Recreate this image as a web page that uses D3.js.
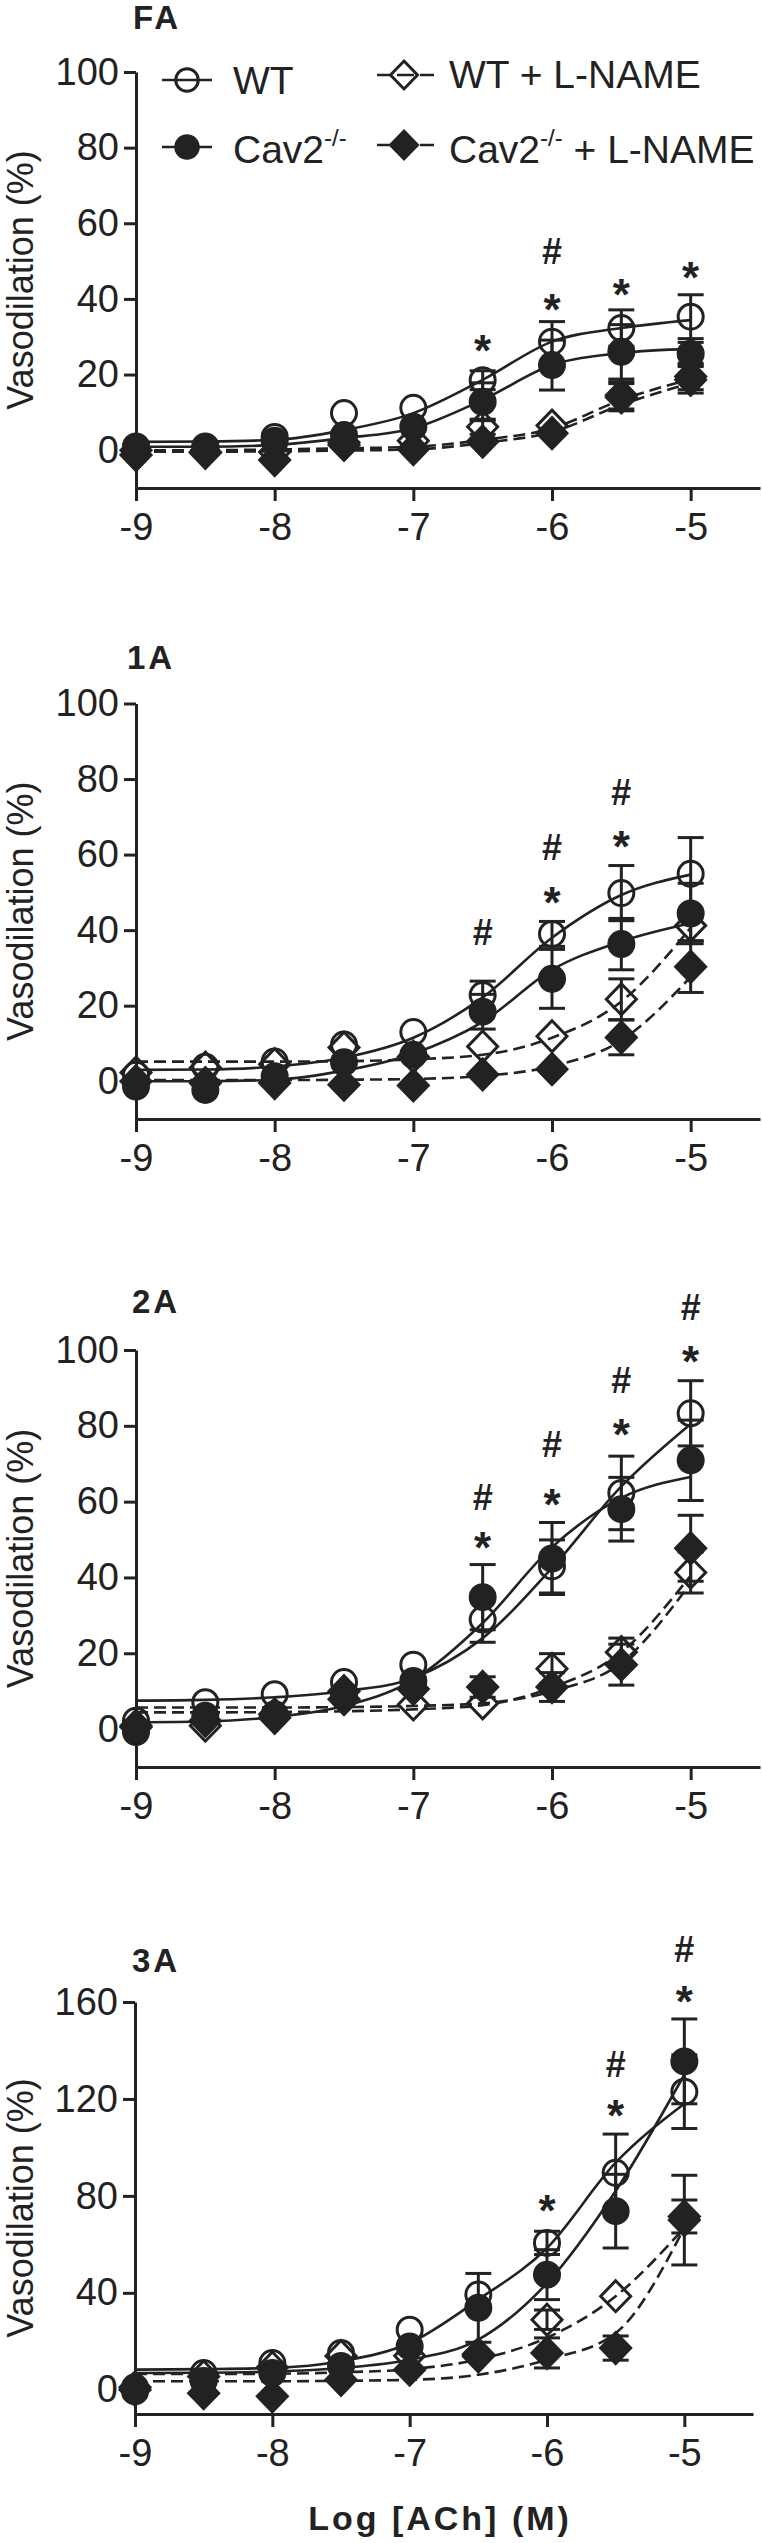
<!DOCTYPE html>
<html><head><meta charset="utf-8">
<script src="https://cdn.jsdelivr.net/npm/d3@7"></script>
<style>
body{margin:0;background:#fff;}
svg{display:block;background:#fff;}
text{font-family:"Liberation Sans", Arial, Helvetica, sans-serif;fill:#222;}
</style></head><body>
<svg id="c" width="762" height="2543"></svg>
<script>
// ---------------- data ----------------
const doses = [-9, -8.5, -8, -7.5, -7, -6.5, -6, -5.5, -5];
const xTickValues = [-9, -8, -7, -6, -5];
const xDomain = [-9, -4.5];
const panelNames = ["FA", "1A", "2A", "3A"];
const seriesNames = ["WT", "Cav2-/-", "WT + L-NAME", "Cav2-/- + L-NAME"];
const legendMain = ["WT", "Cav2", "WT + L-NAME", "Cav2"];
const legendSup = ["", "-/-", "", "-/-"];
const legendTail = ["", "", "", " + L-NAME"];
const yTicks100 = [0, 20, 40, 60, 80, 100];
const yTicks160 = [0, 40, 80, 120, 160];
const yTitle = "Vasodilation (%)";
const xTitle = "Log [ACh] (M)";

// FA
const faWT = [1, 1, 3.5, 9.8, 11.2, 18.5, 28.7, 32.3, 35.3];
const faWTErr = [0, 0, 0, 0, 0, 2.5, 5.3, 4.8, 5.8];
const faCav2 = [0.6, 0.6, 2.5, 4, 6.2, 12.8, 22.5, 26, 25.5];
const faCav2Err = [0, 0, 0, 0, 0, 5, 6.6, 7.2, 3];
const faWTL = [0, -0.5, -0.5, 2, 2.5, 6.2, 6.5, 14.5, 19.5];
const faWTLErr = [0, 0, 0, 0, 0, 2, 0, 3.6, 3.5];
const faCav2L = [-1.3, -0.7, -2.6, 1.4, 0.3, 2.3, 4.5, 14, 18.6];
const faCav2LErr = [0, 0, 0, 0, 0, 0, 0, 3.6, 3.5];
const faWTFit = [2.2, 2.3, 2.7, 5.3, 9.8, 18.6, 28.7, 32.3, 34.4];
const faCav2Fit = [0.9, 0.9, 1.4, 3.2, 5.8, 13.3, 22.5, 25.7, 26.8];
const faWTLFit = [0, 0, 0.2, 0.5, 0.9, 2.7, 5.8, 13.3, 18.8];
const faCav2LFit = [-0.4, -0.4, -0.3, -0.1, 0.2, 1.9, 4.8, 12, 17.8];
const faSig = [[-6.5, 28.7, "*"], [-6, 39.7, "*"], [-6, 52.5, "#"], [-5.5, 43.7, "*"], [-5, 48.1, "*"]];

// 1A
const a1WT = [1.7, 3.8, 5.2, 9.7, 13, 22.8, 39, 49.8, 54.9];
const a1WTErr = [0, 0, 0, 0, 0, 3.7, 3.3, 7.3, 9.6];
const a1Cav2 = [-1.4, -2.3, 1.3, 5, 7, 18.4, 27.1, 36.3, 44.4];
const a1Cav2Err = [0, 0, 0, 0, 0, 4.6, 7.8, 6.8, 8];
const a1WTL = [2.3, 3.6, 4.5, 8.9, 6.5, 9.2, 11.9, 21.7, 41.2];
const a1WTLErr = [0, 0, 0, 0, 0, 0, 0, 5.4, 4];
const a1Cav2L = [0, -0.5, -0.5, -0.9, -1.1, 1.8, 3.2, 11.6, 30.3];
const a1Cav2LErr = [0, 0, 0, 0, 0, 0, 0, 4.6, 6.8];
const a1WTFit = [3, 3.1, 3.9, 6.2, 11.5, 22.2, 38, 49.3, 54.7];
const a1Cav2Fit = [0, 0, 0.4, 2.8, 7.3, 15.7, 29.5, 37, 41.8];
const a1WTLFit = [5.2, 5.2, 5.2, 5.3, 5.8, 7, 11.5, 21.1, 40.6];
const a1Cav2LFit = [0.3, 0.3, 0.3, 0.4, 0.6, 1.4, 4, 10.8, 27.6];
const a1Sig = [[-6.5, 39.5, "#"], [-6, 49.8, "*"], [-6, 61.8, "#"], [-5.5, 64.5, "*"], [-5.5, 76.4, "#"]];

// 2A
const a2WT = [2.2, 7.1, 9.2, 12.4, 17, 28.9, 42.9, 62.3, 83.3];
const a2WTErr = [0, 0, 0, 0, 0, 6, 7, 9.7, 8.6];
const a2Cav2 = [-0.8, 3.5, 3.9, 8.6, 12.7, 34.8, 45, 58, 70.9];
const a2Cav2Err = [0, 0, 0, 0, 0, 8.6, 9.5, 8.4, 10.6];
const a2WTL = [0.9, 0.9, 3, 7.9, 6.5, 6.8, 15.9, 20.3, 41.3];
const a2WTLErr = [0, 0, 0, 0, 0, 0, 4, 3.7, 5.4];
const a2Cav2L = [0.5, 2.2, 3.9, 10, 10.6, 11.1, 11.1, 17, 47.7];
const a2Cav2LErr = [0, 0, 0, 0, 0, 2.7, 3.8, 5.4, 8.7];
const a2WTFit = [7.5, 7.7, 8.4, 10, 13.5, 24, 42.5, 64, 80.5];
const a2Cav2Fit = [1.8, 2, 3.2, 6.1, 13, 28, 48, 61, 66.5];
const a2WTLFit = [5.7, 5.7, 5.7, 5.8, 6.1, 6.8, 10, 17.5, 38.5];
const a2Cav2LFit = [4.4, 4.4, 4.5, 4.7, 5.2, 6.3, 11, 20.3, 40.5];
const a2Sig = [[-6.5, 50.4, "*"], [-6.5, 61.2, "#"], [-6, 61.7, "*"], [-6, 75.2, "#"], [-5.5, 80, "*"], [-5.5, 91.9, "#"], [-5, 99.5, "*"], [-5, 111.3, "#"]];

// 3A
const a3WT = [1, 6.9, 11, 15.2, 24.8, 39.3, 60.6, 89.5, 123];
const a3WTErr = [0, 0, 0, 0, 0, 0, 4.8, 16, 15.2];
const a3Cav2 = [-0.7, 3.6, 6.9, 9.8, 17.9, 33.8, 47.5, 73.7, 135.5];
const a3Cav2Err = [0, 0, 0, 0, 0, 14.2, 10.3, 15.2, 17.5];
const a3WTL = [1, 5.5, 9.2, 13.9, 14, 14.7, 28.9, 38.6, 71.5];
const a3WTLErr = [0, 0, 0, 0, 0, 0, 4, 0, 6.8];
const a3Cav2L = [0, -1.4, -2.7, 4.1, 8.3, 13.8, 15.2, 17.2, 70];
const a3Cav2LErr = [0, 0, 0, 0, 0, 0, 6.2, 5, 18.5];
const a3WTFit = [8.3, 8.5, 9, 11.8, 19.3, 37.2, 58.5, 93.7, 118];
const a3Cav2Fit = [6.9, 7, 7.5, 9, 12.4, 20.7, 44, 82, 130];
const a3WTLFit = [6.5, 6.5, 6.6, 7.2, 8.5, 12.5, 21.5, 38.6, 66.8];
const a3Cav2LFit = [3.5, 3.5, 3.5, 3.7, 4.1, 6.2, 12.4, 23.4, 66.8];
const a3Sig = [[-6, 77.8, "*"], [-5.5, 116.8, "*"], [-5.5, 134.4, "#"], [-5, 164, "*"], [-5, 181.7, "#"]];

// table built from the arrays above
const panels = [
  {name: panelNames[0], yTicks: yTicks100, yDomain: [-10, 100],
   means: [faWT, faCav2, faWTL, faCav2L], errs: [faWTErr, faCav2Err, faWTLErr, faCav2LErr],
   fits: [faWTFit, faCav2Fit, faWTLFit, faCav2LFit], sig: faSig},
  {name: panelNames[1], yTicks: yTicks100, yDomain: [-10, 100],
   means: [a1WT, a1Cav2, a1WTL, a1Cav2L], errs: [a1WTErr, a1Cav2Err, a1WTLErr, a1Cav2LErr],
   fits: [a1WTFit, a1Cav2Fit, a1WTLFit, a1Cav2LFit], sig: a1Sig},
  {name: panelNames[2], yTicks: yTicks100, yDomain: [-10, 100],
   means: [a2WT, a2Cav2, a2WTL, a2Cav2L], errs: [a2WTErr, a2Cav2Err, a2WTLErr, a2Cav2LErr],
   fits: [a2WTFit, a2Cav2Fit, a2WTLFit, a2Cav2LFit], sig: a2Sig},
  {name: panelNames[3], yTicks: yTicks160, yDomain: [-10, 160],
   means: [a3WT, a3Cav2, a3WTL, a3Cav2L], errs: [a3WTErr, a3Cav2Err, a3WTLErr, a3Cav2LErr],
   fits: [a3WTFit, a3Cav2Fit, a3WTLFit, a3Cav2LFit], sig: a3Sig}
];

// ---------------- drawing ----------------
const INK = "#222";
const shapes = ["circle", "circle", "diamond", "diamond"];
const filled = [false, true, false, true];
const dashed = [false, false, true, true];

const layout = [
  {left: 136, right: 760, top: 72, bottom: 488, lx: 133, ly: 29},
  {left: 136, right: 760, top: 703.5, bottom: 1119, lx: 127, ly: 669},
  {left: 136, right: 760, top: 1350, bottom: 1767, lx: 132, ly: 1313},
  {left: 135, right: 753, top: 2002, bottom: 2414, lx: 132, ly: 1972}
];

const svg = d3.select("#c");

function drawMarker(sel, shape, isFilled, cx, cy, size) {
  const s = size || 1;
  if (shape === "circle") {
    sel.append("circle").attr("cx", cx).attr("cy", cy).attr("r", 12.5 * s)
      .attr("fill", isFilled ? INK : "none").attr("stroke", INK).attr("stroke-width", 3);
  } else {
    const w = 15 * s, h = 15.5 * s;
    sel.append("path").attr("d", `M${cx},${cy - h}L${cx + w},${cy}L${cx},${cy + h}L${cx - w},${cy}Z`)
      .attr("fill", isFilled ? INK : "none").attr("stroke", INK).attr("stroke-width", 3)
      .attr("stroke-linejoin", "miter");
  }
}

panels.forEach((p, i) => {
  const L = layout[i];
  const x = d3.scaleLinear().domain(xDomain).range([L.left, L.right]);
  const y = d3.scaleLinear().domain(p.yDomain).range([L.bottom, L.top]);
  const g = svg.append("g");

  // axes
  const yAxis = d3.axisLeft(y).tickValues(p.yTicks).tickSize(12).tickSizeOuter(0).tickPadding(5)
    .tickFormat(d => String(d));
  const gy = g.append("g").attr("transform", `translate(${x(xDomain[0])},0)`).call(yAxis);
  const xAxis = d3.axisBottom(x).tickValues(xTickValues).tickSize(13).tickSizeOuter(0).tickPadding(12)
    .tickFormat(d => String(d));
  const gx = g.append("g").attr("transform", `translate(0,${y(p.yDomain[0])})`).call(xAxis);
  [gy, gx].forEach(a => {
    a.selectAll("path.domain").attr("stroke", INK).attr("stroke-width", 3);
    a.selectAll(".tick line").attr("stroke", INK).attr("stroke-width", 3);
    a.selectAll(".tick text").attr("font-size", 38).attr("fill", INK)
      .style("font-family", '"Liberation Sans", Arial, sans-serif');
  });

  // panel label
  g.append("text").attr("x", L.lx).attr("y", L.ly).attr("font-size", 33).attr("font-weight", "bold")
    .attr("letter-spacing", 3).text(p.name);

  // y title
  g.append("text").attr("transform", "rotate(-90)")
    .attr("x", -(L.top + L.bottom) / 2).attr("y", 33)
    .attr("text-anchor", "middle").attr("font-size", 36).text(yTitle);

  // fitted curves
  const line = d3.line().x((d, j) => x(doses[j])).y(d => y(d)).curve(d3.curveMonotoneX);
  p.fits.forEach((f, k) => {
    g.append("path").attr("d", line(f)).attr("fill", "none").attr("stroke", INK)
      .attr("stroke-width", 2.6).attr("stroke-dasharray", dashed[k] ? "12,6" : null);
  });

  // error bars
  p.means.forEach((m, k) => {
    m.forEach((v, j) => {
      const e = p.errs[k][j];
      if (!e) return;
      const cx = x(doses[j]);
      const y1 = y(v - e), y2 = y(v + e);
      g.append("line").attr("x1", cx).attr("x2", cx).attr("y1", y1).attr("y2", y2)
        .attr("stroke", INK).attr("stroke-width", 3);
      [y1, y2].forEach(yy => g.append("line").attr("x1", cx - 13).attr("x2", cx + 13)
        .attr("y1", yy).attr("y2", yy).attr("stroke", INK).attr("stroke-width", 3));
    });
  });

  // markers
  p.means.forEach((m, k) => {
    m.forEach((v, j) => drawMarker(g, shapes[k], filled[k], x(doses[j]), y(v)));
  });

  // significance marks
  p.sig.forEach(([d, v, t]) => {
    const isStar = t === "*";
    const fs = isStar ? 44 : 36;
    const off = isStar ? 0.56 * fs : 0.35 * fs;
    g.append("text").attr("x", x(d)).attr("y", y(v) + off).attr("text-anchor", "middle")
      .attr("font-size", fs).attr("font-weight", "bold").text(t);
  });

  // legend (first panel only)
  if (i === 0) {
    const lg = g.append("g");
    const items = [
      {cx: 187, lineX: [162, 212], my: 80, tx: 233, ty: 94},
      {cx: 187, lineX: [162, 212], my: 147, tx: 233, ty: 163},
      {cx: 404, lineX: [377, 434], my: 75, tx: 449, ty: 88},
      {cx: 404, lineX: [377, 434], my: 145, tx: 449, ty: 163}
    ];
    items.forEach((it, k) => {
      lg.append("line").attr("x1", it.lineX[0]).attr("x2", it.lineX[1]).attr("y1", it.my).attr("y2", it.my)
        .attr("stroke", INK).attr("stroke-width", 2.6)
        .attr("stroke-dasharray", dashed[k] ? "14,6,17,6,14" : null);
      drawMarker(lg, shapes[k], filled[k], it.cx, it.my, 0.9);
      const t = lg.append("text").attr("x", it.tx).attr("y", it.ty).attr("font-size", 39);
      t.append("tspan").text(legendMain[k]);
      if (legendSup[k]) t.append("tspan").attr("font-size", 24).attr("dy", -17).text(legendSup[k]);
      if (legendTail[k]) t.append("tspan").attr("dy", 17).text(legendTail[k]);
    });
  }

  if (i === panels.length - 1) {
    g.append("text").attr("x", 440).attr("y", 2530).attr("text-anchor", "middle")
      .attr("font-size", 34).attr("font-weight", "bold").attr("letter-spacing", 3).text(xTitle);
  }
});
</script>
</body></html>
